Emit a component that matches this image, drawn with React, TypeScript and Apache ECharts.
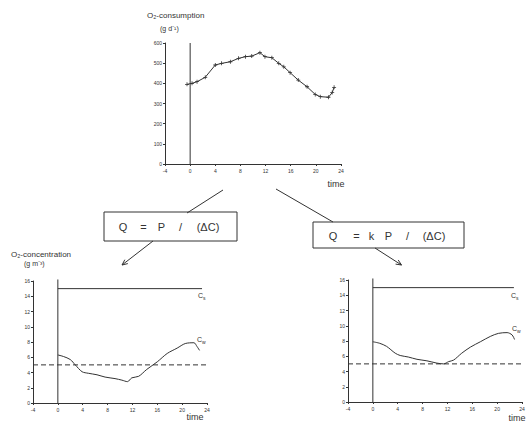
import React, { useEffect, useRef } from "react";
import * as echarts from "echarts";

// ---- data ----
const timeTicks = [-4, 0, 4, 8, 12, 16, 20, 24];
const consumptionTicks = [0, 100, 200, 300, 400, 500, 600];
const concentrationTicks = [0, 2, 4, 6, 8, 10, 12, 14, 16];

const consumptionTime = [-0.5, 0.3, 1.1, 2.4, 4.0, 5.0, 6.4, 7.7, 8.8, 9.8, 11.1, 11.9, 13.0, 14.1, 14.9, 15.9, 17.2, 18.6, 19.9, 20.7, 22.0, 22.6, 22.9];
const consumptionValue = [395, 400, 408, 430, 491, 499, 507, 524, 532, 535, 552, 532, 527, 499, 482, 453, 416, 383, 345, 334, 331, 354, 380];

const leftTime = [0, 0.9, 2.0, 2.8, 3.9, 4.9, 6.3, 7.6, 9.2, 10.3, 11.2, 11.9, 13.0, 14.3, 16.0, 17.6, 19.2, 20.5, 21.9, 22.4, 22.8];
const leftCw = [6.3, 6.1, 5.7, 5.0, 4.1, 3.9, 3.7, 3.4, 3.2, 3.0, 2.8, 3.3, 3.5, 4.4, 5.4, 6.5, 7.2, 7.8, 7.9, 7.4, 6.9];

const rightTime = [0, 1.1, 2.2, 3.6, 4.4, 5.7, 7.1, 8.7, 10.3, 11.4, 12.2, 13.0, 14.3, 15.7, 17.3, 18.9, 20.2, 21.6, 22.4, 22.8];
const rightCw = [7.9, 7.7, 7.3, 6.4, 6.1, 5.9, 5.6, 5.4, 5.1, 5.0, 5.3, 5.5, 6.4, 7.2, 7.9, 8.6, 9.0, 9.1, 8.8, 8.2];

const csLevel = 15;
const csEndLeft = 23.2;
const csEndRight = 22.7;
const thresholdLevel = 5;

// ---- styles ----
const INK = "#333333";
const FONT = "Liberation Sans";

function zip(xs: number[], ys: number[]) {
  return xs.map((x, i) => [x, ys[i]]);
}

function arrowHead(x1: number, y1: number, x2: number, y2: number, len = 6, ang = 0.42) {
  const a = Math.atan2(y1 - y2, x1 - x2);
  return [
    [x2 + len * Math.cos(a + ang), y2 + len * Math.sin(a + ang)],
    [x2, y2],
    [x2 + len * Math.cos(a - ang), y2 + len * Math.sin(a - ang)],
  ];
}

function xAxisFor(gridIndex: number) {
  return {
    type: "value",
    gridIndex,
    min: timeTicks[0],
    max: timeTicks[timeTicks.length - 1],
    interval: timeTicks[1] - timeTicks[0],
    axisLine: { show: true, onZero: false, lineStyle: { color: INK, width: 1 } },
    axisTick: { show: true, length: 2, lineStyle: { color: INK } },
    axisLabel: { fontSize: 5, color: INK, margin: 4, fontFamily: FONT, formatter: (v: number) => String(v) },
    splitLine: { show: false },
  };
}

function yAxisFor(gridIndex: number, ticks: number[]) {
  return {
    type: "value",
    gridIndex,
    min: ticks[0],
    max: ticks[ticks.length - 1],
    interval: ticks[1] - ticks[0],
    axisLine: { show: true, onZero: false, lineStyle: { color: INK, width: 1 } },
    axisTick: { show: true, length: 2, lineStyle: { color: INK } },
    axisLabel: { fontSize: 5, color: INK, margin: 3, fontFamily: FONT },
    splitLine: { show: false },
  };
}

function plainLine(data: number[][], xi: number, dashed = false, smooth: number | boolean = false) {
  return {
    type: "line",
    xAxisIndex: xi,
    yAxisIndex: xi,
    data,
    symbol: "none",
    smooth,
    clip: false,
    lineStyle: { color: INK, width: 1, type: dashed ? [5, 3] : "solid" },
    silent: true,
  };
}

function txt(x: number, y: number, text: string, fontSize: number, align = "left") {
  return {
    type: "text",
    x,
    y,
    style: { text, fontSize, fontFamily: FONT, fill: INK, textAlign: align, textVerticalAlign: "middle" },
  };
}

function seg(x1: number, y1: number, x2: number, y2: number) {
  return { type: "line", shape: { x1, y1, x2, y2 }, style: { stroke: INK, lineWidth: 1 } };
}

export default function App() {
  const ref = useRef<HTMLDivElement>(null);

  useEffect(() => {
    if (!ref.current) return;
    const chart = echarts.init(ref.current, undefined, { renderer: "svg" });

    const graphics: any[] = [
      // titles
      txt(147, 15, "O₂-consumption", 8),
      txt(160, 28, "(g d⁻¹)", 7),
      txt(11, 254, "O₂-concentration", 8),
      txt(24, 263, "(g m⁻³)", 7),
      txt(336, 184, "time", 9, "center"),
      txt(195, 417, "time", 9, "center"),
      txt(517, 418, "time", 9, "center"),
      // curve labels
      txt(198, 295, "C", 7),
      txt(203, 298, "s", 5),
      txt(197, 339, "C", 7),
      txt(202, 342, "w", 5),
      txt(511, 295, "C", 7),
      txt(516, 298, "s", 5),
      txt(512, 328, "C", 7),
      txt(517, 331, "w", 5),
      // left box
      { type: "rect", shape: { x: 104, y: 212, width: 133, height: 29 }, style: { fill: "none", stroke: INK, lineWidth: 1 } },
      txt(123, 226.5, "Q", 11, "center"),
      txt(143.5, 226.5, "=", 11, "center"),
      txt(161.5, 226.5, "P", 11, "center"),
      txt(180.5, 226.5, "/", 11, "center"),
      txt(208, 226.5, "(ΔC)", 11, "center"),
      // right box
      { type: "rect", shape: { x: 313, y: 222, width: 151, height: 26 }, style: { fill: "none", stroke: INK, lineWidth: 1 } },
      txt(333, 235.5, "Q", 11, "center"),
      txt(356.5, 235.5, "=", 11, "center"),
      txt(371.5, 235.5, "k", 11, "center"),
      txt(388.5, 235.5, "P", 11, "center"),
      txt(407.5, 235.5, "/", 11, "center"),
      txt(434, 235.5, "(ΔC)", 11, "center"),
      // connectors
      seg(223, 190, 187, 213),
      seg(276, 189, 333, 222),
      seg(153, 241, 122, 265),
      { type: "polyline", shape: { points: arrowHead(153, 241, 122, 265) }, style: { fill: "none", stroke: INK, lineWidth: 1 } },
      seg(375, 248, 401.5, 265),
      { type: "polyline", shape: { points: arrowHead(375, 248, 401.5, 265) }, style: { fill: "none", stroke: INK, lineWidth: 1 } },
    ];

    chart.setOption({
      animation: false,
      backgroundColor: "#ffffff",
      grid: [
        { left: 165, top: 43, width: 176, height: 121, outerBoundsMode: "none", containLabel: false },
        { left: 33, top: 281, width: 174, height: 122, outerBoundsMode: "none", containLabel: false },
        { left: 348, top: 280, width: 174, height: 122, outerBoundsMode: "none", containLabel: false },
      ],
      xAxis: [xAxisFor(0), xAxisFor(1), xAxisFor(2)],
      yAxis: [yAxisFor(0, consumptionTicks), yAxisFor(1, concentrationTicks), yAxisFor(2, concentrationTicks)],
      series: [
        {
          type: "line",
          xAxisIndex: 0,
          yAxisIndex: 0,
          data: zip(consumptionTime, consumptionValue),
          symbol: "path://M4,0H6V4H10V6H6V10H4V6H0V4H4Z",
          symbolSize: 4,
          itemStyle: { color: INK },
          lineStyle: { color: INK, width: 1 },
          clip: false,
        },
        plainLine([[0, 0], [0, 600]], 0),
        plainLine(zip(leftTime, leftCw), 1, false, 0.3),
        plainLine([[0, csLevel], [csEndLeft, csLevel]], 1),
        plainLine([[-4, thresholdLevel], [24, thresholdLevel]], 1, true),
        plainLine([[0, 0], [0, 16.2]], 1),
        plainLine(zip(rightTime, rightCw), 2, false, 0.3),
        plainLine([[0, csLevel], [csEndRight, csLevel]], 2),
        plainLine([[-4, thresholdLevel], [24, thresholdLevel]], 2, true),
        plainLine([[0, 0], [0, 16.2]], 2),
      ],
      graphic: graphics,
    });

    return () => chart.dispose();
  }, []);

  return (
    <div
      ref={ref}
      style={{ position: "absolute", left: 0, top: 0, width: 528, height: 426 }}
    />
  );
}
